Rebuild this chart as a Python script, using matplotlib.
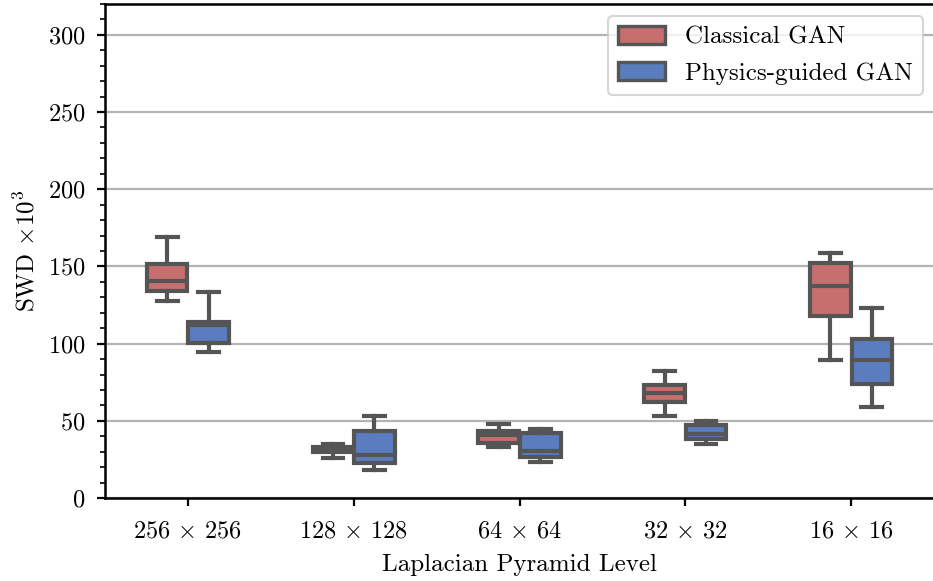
import matplotlib
matplotlib.use("Agg")
import matplotlib.pyplot as plt
from matplotlib.patches import Patch
from matplotlib.ticker import MultipleLocator

categories = [r"256 $\times$ 256", r"128 $\times$ 128", r"64 $\times$ 64", r"32 $\times$ 32", r"16 $\times$ 16"]
series_names = ["Classical GAN", "Physics-guided GAN"]

classical_whislo = [127.9, 26.1, 33.3, 53.1, 89.4]
classical_q1 = [134.1, 29.8, 35.4, 62.4, 117.9]
classical_med = [140.8, 31.5, 40.8, 67.8, 137.4]
classical_q3 = [151.4, 33.2, 43.4, 73.2, 152.1]
classical_whishi = [168.9, 34.8, 47.9, 82.3, 158.9]

physics_whislo = [94.8, 18.1, 23.5, 34.8, 58.8]
physics_q1 = [100.6, 22.9, 26.4, 38.2, 73.7]
physics_med = [111.9, 27.9, 30.5, 41.3, 89.4]
physics_q3 = [114.3, 43.6, 41.9, 47.1, 103.0]
physics_whishi = [133.3, 53.3, 44.7, 49.9, 122.9]

plt.rcParams["font.family"] = "serif"
plt.rcParams["font.serif"] = ["cmr10"]
plt.rcParams["mathtext.fontset"] = "cm"
plt.rcParams["axes.formatter.use_mathtext"] = True
plt.rcParams["font.size"] = 18

colors = ["#c76e6e", "#597dbf"]
edge = "#555555"
lw = 3.0

fig = plt.figure(figsize=(9.33, 5.81), dpi=100)
ax = fig.add_axes([105 / 933, 1 - 498 / 581, (934 - 105) / 933, (498 - 4) / 581])

def stats(lo, q1, med, q3, hi):
    return [dict(whislo=a, q1=b, med=c, q3=d, whishi=e, fliers=[]) for a, b, c, d, e in zip(lo, q1, med, q3, hi)]

groups = [
    stats(classical_whislo, classical_q1, classical_med, classical_q3, classical_whishi),
    stats(physics_whislo, physics_q1, physics_med, physics_q3, physics_whishi),
]
offsets = [-0.125, 0.125]
for g, off, col in zip(groups, offsets, colors):
    pos = [i + off for i in range(len(categories))]
    ax.bxp(g, positions=pos, widths=0.245, patch_artist=True, showfliers=False,
           boxprops=dict(facecolor=col, edgecolor=edge, linewidth=lw),
           medianprops=dict(color=edge, linewidth=lw),
           whiskerprops=dict(color=edge, linewidth=lw),
           capprops=dict(color=edge, linewidth=lw),
           capwidths=0.125, zorder=3)

ax.set_xlim(-0.5, 4.5)
ax.set_ylim(0, 320)
ax.set_xticks(range(len(categories)))
ax.set_xticklabels(categories)
ax.yaxis.set_major_locator(MultipleLocator(50))
ax.yaxis.set_minor_locator(MultipleLocator(10))
ax.grid(axis="y", which="major", color="#b3b3b3", linewidth=1.6, zorder=0)
ax.set_axisbelow(True)
for s in ax.spines.values():
    s.set_linewidth(1.8)
    s.set_color("black")
ax.tick_params(axis="both", which="major", length=6, width=1.6, labelsize=17.5, pad=8)
ax.tick_params(axis="x", which="major", pad=10)
ax.tick_params(axis="y", which="minor", length=3.5, width=1.2)
ax.tick_params(axis="x", which="minor", length=0)

ax.set_xlabel("Laplacian Pyramid Level", fontsize=18, labelpad=8)
ax.set_ylabel(r"SWD $\times 10^3$", fontsize=18, labelpad=6)

handles = [Patch(facecolor=c, edgecolor=edge, linewidth=lw * 0.8, label=n) for c, n in zip(colors, series_names)]
leg = ax.legend(handles=handles, loc="upper right", bbox_to_anchor=(0.9867, 0.9757), borderaxespad=0,
                fontsize=18, frameon=True, fancybox=True, framealpha=0.8, edgecolor="#cccccc",
                handlelength=1.9, handleheight=0.7, borderpad=0.4, labelspacing=0.55,
                handletextpad=0.8)
leg.get_frame().set_linewidth(1.5)

fig.savefig("out.png", dpi=100)
